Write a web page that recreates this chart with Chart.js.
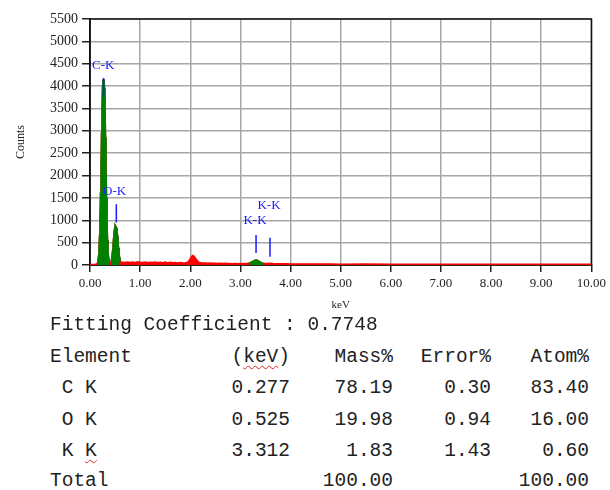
<!DOCTYPE html>
<html>
<head>
<meta charset="utf-8">
<script src="https://cdn.jsdelivr.net/npm/chart.js@4.4.1/dist/chart.umd.min.js"></script>
<style>
  body { margin: 0; background: #fff; }
  #wrap { position: relative; width: 610px; height: 490px; overflow: hidden; }
  #chartBox { position: absolute; left: 0; top: 0; width: 610px; height: 320px; }
  .cell {
    position: absolute; font-family: "Liberation Mono", monospace; font-size: 19.5px;
    line-height: 20px; color: #222; white-space: pre;
  }
  .r { text-align: right; }
  .sq { text-decoration: underline wavy #e02020; text-decoration-thickness: 1px; text-underline-offset: 3px; }
</style>
</head>
<body>
<div id="wrap">
  <div id="chartBox"><canvas id="eds"></canvas></div>
  <div id="table"></div>
</div>
<script>
// spectrum (keV, counts)
const energyKeV = [0.00, 0.05, 0.10, 0.12, 0.14,
  0.15, 0.16, 0.17, 0.18, 0.19, 0.20, 0.21, 0.22, 0.23, 0.24, 0.25, 0.26, 0.27, 0.28, 0.29,
  0.30, 0.31, 0.32, 0.33, 0.34, 0.35, 0.36, 0.37, 0.38, 0.39, 0.40, 0.41, 0.42,
  0.43, 0.44, 0.45, 0.46, 0.47, 0.48, 0.49, 0.50, 0.51, 0.52, 0.53, 0.54, 0.55, 0.56, 0.57,
  0.58, 0.59, 0.60, 0.61, 0.62,
  0.66, 0.70, 0.75, 0.80, 0.85, 0.90, 0.95, 1.00, 1.05, 1.10, 1.15, 1.20, 1.25, 1.30, 1.35,
  1.40, 1.45, 1.50, 1.55, 1.60, 1.65, 1.70, 1.75, 1.80, 1.85, 1.90, 1.94, 1.97, 2.00, 2.03,
  2.05, 2.07, 2.10, 2.13, 2.16, 2.20, 2.25, 2.30, 2.35, 2.40, 2.45, 2.50, 2.55, 2.60, 2.65,
  2.70, 2.75, 2.80, 2.85, 2.90, 2.95, 3.00, 3.05, 3.10, 3.13, 3.17, 3.21, 3.25, 3.29, 3.31,
  3.33, 3.37, 3.41, 3.45, 3.50, 3.55, 3.60, 3.65, 3.70, 3.80, 3.90, 4.00, 4.20, 4.40, 4.60,
  4.80, 5.00, 5.50, 6.00, 6.50, 7.00, 7.50, 8.00, 8.50, 9.00, 9.50, 10.00];
const counts = [0, 2, 5, 8, 15,
  20, 50, 100, 200, 380, 650, 1050, 1600, 2250, 2950, 3550, 4000, 4150, 3950, 3500,
  2850, 2150, 1500, 950, 560, 300, 160, 90, 60, 45, 40, 38, 45,
  80, 130, 210, 320, 450, 590, 720, 810, 850, 830, 760, 650, 510, 380, 260,
  170, 110, 75, 55, 48,
  52, 44, 58, 47, 55, 42, 60, 50, 45, 57, 40, 52, 44, 55, 38,
  50, 42, 53, 37, 48, 40, 45, 35, 42, 36, 40, 45, 70, 120, 180,
  200, 185, 140, 90, 55, 38, 32, 36, 28, 33, 26, 30, 24, 28, 22,
  26, 20, 24, 19, 22, 18, 20, 17, 20, 22, 28, 45, 68, 92, 98,
  94, 70, 42, 26, 20, 24, 28, 20, 16, 14, 15, 12, 10, 11, 9,
  10, 8, 9, 7, 8, 6, 7, 6, 6, 5, 5, 5];

// fitted peak windows (green)
const peakRanges = [[0.16, 0.38], [0.43, 0.60], [3.17, 3.45]];

// line markers and their labels
const markerKeV = [0.27, 0.525, 3.312, 3.59];
const markerTop = [4180, 1360, 670, 610];
const markerBottom = [3760, 950, 270, 185];
const labelText = ['C-K', 'O-K', 'K-K', 'K-K'];
const labelKeV = [0.04, 0.26, 3.06, 3.34];
const labelCounts = [4450, 1650, 985, 1325];

const xTicks = [0, 1, 2, 3, 4, 5, 6, 7, 8, 9, 10];

// table below the plot
const tableTitle = 'Fitting Coefficient : 0.7748';
const tableHeader = ['Element', '(keV)', 'Mass%', 'Error%', 'Atom%'];
const elements = [' C K', ' O K', ' K K'];
const lineKeV = ['0.277', '0.525', '3.312'];
const massPct = ['78.19', '19.98', '1.83'];
const errorPct = ['0.30', '0.94', '1.43'];
const atomPct = ['83.40', '16.00', '0.60'];
const totals = ['Total', '', '100.00', '', '100.00'];

const spectrum = energyKeV.map((e, i) => ({ x: e, y: counts[i] }));
// one green dataset per peak window
const peakSets = peakRanges.map(r => ({
  data: spectrum.filter(p => p.x >= r[0] && p.x <= r[1]),
  borderColor: '#008000', backgroundColor: '#008000', borderWidth: 2.5,
  pointRadius: 0, fill: 'origin', tension: 0, order: 2
}));

const markerSets = markerKeV.map((e, i) => ({
  data: [{ x: e, y: markerBottom[i] }, { x: e, y: markerTop[i] }],
  borderColor: '#1a1aff', borderWidth: 1.5, pointRadius: 0, fill: false, order: 1
}));

const framePlugin = {
  id: 'frame',
  beforeDatasetsDraw(chart) {
    const a = chart.chartArea, c = chart.ctx;
    c.save();
    c.strokeStyle = '#111';
    c.lineWidth = 1.5;
    c.strokeRect(a.left, a.top, a.right - a.left, a.bottom - a.top);
    c.restore();
  }
};

const labelPlugin = {
  id: 'peakLabels',
  afterDatasetsDraw(chart) {
    const c = chart.ctx, xs = chart.scales.x, ys = chart.scales.y;
    c.save();
    c.fillStyle = '#1a1aff';
    c.font = '13px "Liberation Serif"';
    c.textAlign = 'left';
    c.textBaseline = 'middle';
    labelText.forEach((t, i) => {
      c.fillText(t, xs.getPixelForValue(labelKeV[i]), ys.getPixelForValue(labelCounts[i]));
    });
    c.restore();
  }
};

new Chart(document.getElementById('eds'), {
  type: 'line',
  data: {
    datasets: [
      { data: spectrum, borderColor: '#ff0000', backgroundColor: '#ff0000', borderWidth: 2.5,
        pointRadius: 0, fill: 'origin', tension: 0, order: 3 }
    ].concat(peakSets, markerSets)
  },
  options: {
    responsive: true,
    maintainAspectRatio: false,
    animation: false,
    layout: { padding: { top: 19, right: 16, left: 0, bottom: 0 } },
    plugins: { legend: { display: false }, tooltip: { enabled: false } },
    scales: {
      x: {
        type: 'linear', min: 0, max: 10,
        afterBuildTicks: s => { s.ticks = xTicks.map(v => ({ value: v })); },
        afterFit: s => { s.height = 55; },
        ticks: { color: '#222', font: { family: 'Liberation Serif', size: 13 }, padding: 4,
                 maxRotation: 0, callback: v => v.toFixed(2) },
        grid: { color: '#a6a6a6', lineWidth: 1.5, tickLength: 7, tickColor: '#222' },
        border: { color: '#111', width: 1.5 },
        title: { display: true, text: 'keV', color: '#222',
                 font: { family: 'Liberation Serif', size: 11 }, padding: { top: 0, bottom: 8 } }
      },
      y: {
        min: 0, max: 5500,
        afterFit: s => { s.width = 90; },
        ticks: { stepSize: 500, color: '#222', font: { family: 'Liberation Serif', size: 14 }, padding: 4,
                 callback: v => String(v) },
        grid: { color: '#a6a6a6', lineWidth: 1.5, tickLength: 8, tickColor: '#222' },
        border: { color: '#111', width: 1.5 },
        title: { display: true, text: 'Counts', color: '#222',
                 font: { family: 'Liberation Serif', size: 12 }, padding: { top: 14, bottom: 0 } }
      }
    }
  },
  plugins: [framePlugin, labelPlugin]
});

// table as real text
const table = document.getElementById('table');
function put(text, x, baseline, right, squiggle) {
  const d = document.createElement('div');
  d.className = 'cell' + (right ? ' r' : '');
  d.style.top = (baseline - 15) + 'px';
  if (right) { d.style.right = (610 - x) + 'px'; } else { d.style.left = x + 'px'; }
  if (squiggle) d.innerHTML = text; else d.textContent = text;
  table.appendChild(d);
}
const colRight = [290, 393, 491, 589];
const rowBase = [330, 362, 393, 424.5, 456, 486];
put(tableTitle, 50, rowBase[0], false);
put(tableHeader[0], 50, rowBase[1], false);
put('(<span class="sq">keV</span>)', colRight[0], rowBase[1], true, true);
tableHeader.slice(2).forEach((h, i) => put(h, colRight[i + 1], rowBase[1], true));
elements.forEach((el, i) => {
  const b = rowBase[i + 2];
  if (i === 2) put(' K <span class="sq">K</span>', 50, b, false, true); else put(el, 50, b, false);
  put(lineKeV[i], colRight[0], b, true);
  put(massPct[i], colRight[1], b, true);
  put(errorPct[i], colRight[2], b, true);
  put(atomPct[i], colRight[3], b, true);
});
put(totals[0], 50, rowBase[5], false);
put(totals[2], colRight[1], rowBase[5], true);
put(totals[4], colRight[3], rowBase[5], true);
</script>
</body>
</html>
